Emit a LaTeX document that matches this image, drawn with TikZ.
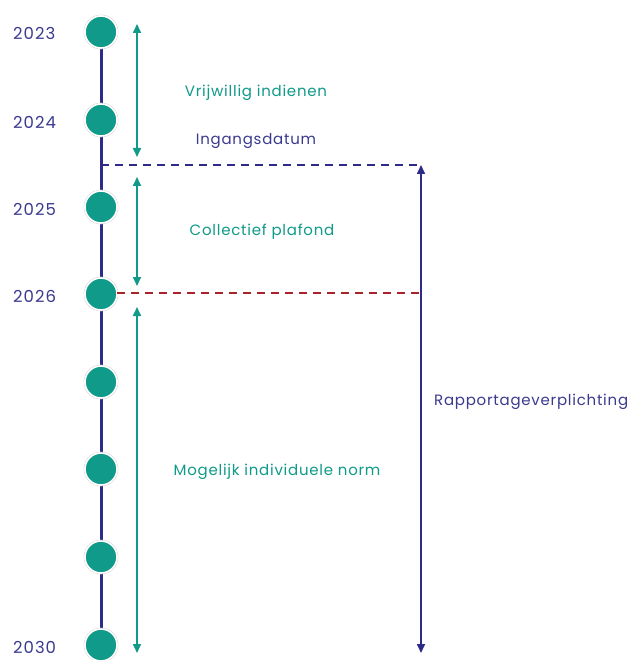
\documentclass[tikz,border=0pt]{standalone}
\usepackage{fontspec}
\setmainfont{Poppins}
\newfontfamily\yearfont{Poppins}[LetterSpace=6]
\newfontfamily\lblfont{Poppins}[LetterSpace=5]
\usetikzlibrary{arrows.meta}
\definecolor{teal1}{HTML}{0F9A89}
\definecolor{navy1}{HTML}{2E2A87}
\definecolor{navytext}{HTML}{3B3A8E}
\definecolor{red1}{HTML}{A8232A}
\begin{document}
\begin{tikzpicture}[x=1pt,y=-1pt,
  yearlbl/.style={text=navytext,font=\yearfont\fontsize{16.5}{18}\selectfont,anchor=west,inner sep=0pt},
  tlbl/.style={text=teal1,font=\lblfont\fontsize{15}{17}\selectfont,inner sep=0pt},
  nlbl/.style={text=navytext,font=\lblfont\fontsize{15}{17}\selectfont,inner sep=0pt},
  dot/.style={circle,fill=teal1,draw=white,line width=1.6pt,minimum size=32pt,inner sep=0pt},
  ring/.style={circle,draw=black!18,line width=0.6pt,minimum size=34pt,inner sep=0pt},
  tarrow/.style={teal1,line width=1.6pt,{Triangle[width=8pt,length=9pt]}-{Triangle[width=8pt,length=9pt]}},
  narrow/.style={navy1,line width=1.6pt,{Triangle[width=8pt,length=9pt]}-{Triangle[width=8pt,length=9pt]}},
  ndash/.style={navy1,line width=1.6pt,dash pattern=on 8pt off 6pt},
  rdash/.style={red1,line width=1.6pt,dash pattern=on 8pt off 6pt}]
\useasboundingbox (0,0) rectangle (634,660);
\fill[white] (0,0) rectangle (634,660);
% timeline
\coordinate (top) at (101,32);
\coordinate (bot) at (101,645);
\draw[navy1,line width=3pt] (top) -- (bot);
\foreach \i/\y in {1/32,2/120,3/207,4/294,5/382,6/469,7/557,8/645}{
  \node[ring] at (101,\y) {};
  \node[dot] (c\i) at (101,\y) {};
}
% years
\node[yearlbl] (y23) at (13,33) {2023};
\node[yearlbl] (y24) at (13,122) {2024};
\node[yearlbl] (y25) at (13,209) {2025};
\node[yearlbl] (y26) at (13,296) {2026};
\node[yearlbl] (y30) at (13,647) {2030};
% dashed lines
\coordinate (d1a) at (101,165);
\coordinate (d1b) at (421,165);
\coordinate (d2a) at (117,293);
\coordinate (d2b) at (421,293);
\draw[ndash] (d1a) -- (d1b);
\draw[rdash] (d2a) -- (d2b);
% teal arrows
\coordinate (a1t) at (137,24);
\coordinate (a1b) at (137,157);
\coordinate (a2t) at (137,177);
\coordinate (a2b) at (137,286);
\coordinate (a3t) at (137,307);
\coordinate (a3b) at (137,653);
\draw[tarrow] (a1t) -- (a1b);
\draw[tarrow] (a2t) -- (a2b);
\draw[tarrow] (a3t) -- (a3b);
% navy arrow
\coordinate (ra) at (421,165);
\coordinate (rb) at (421,653);
\draw[narrow] (ra) -- (rb);
% labels
\node[tlbl] (l1) at (256,93) {Vrijwillig indienen};
\node[nlbl] (l2) at (256,141) {Ingangsdatum};
\node[tlbl] (l3) at (262,232) {Collectief plafond};
\node[tlbl] (l4) at (277,472) {Mogelijk individuele norm};
\node[nlbl,anchor=west] (l5) at (434,402) {Rapportageverplichting};
\end{tikzpicture}
\end{document}
